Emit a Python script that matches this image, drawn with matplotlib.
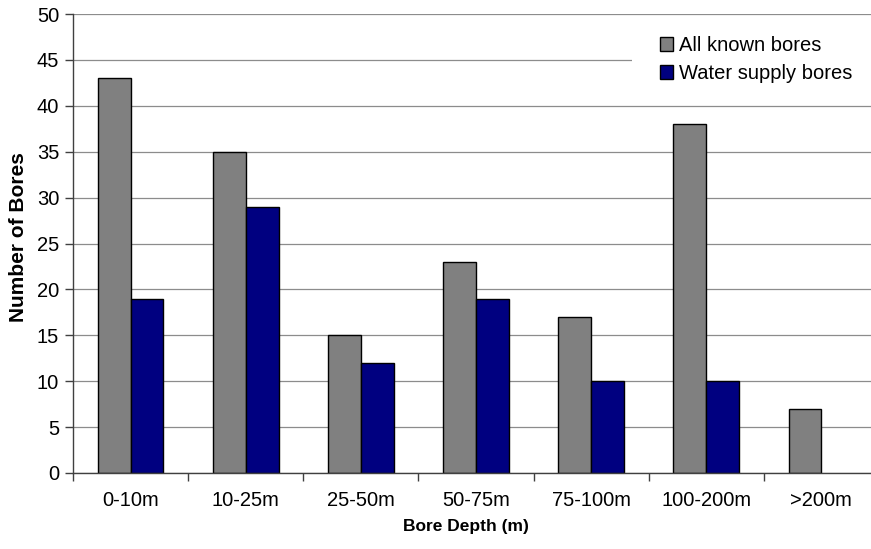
import matplotlib
matplotlib.use("Agg")
import matplotlib.pyplot as plt
from matplotlib.patches import Rectangle, Patch
import numpy as np

plt.rcParams['font.family'] = ['Liberation Sans', 'DejaVu Sans']

categories = ["0-10m", "10-25m", "25-50m", "50-75m", "75-100m", "100-200m", ">200m"]
all_known = [43, 35, 15, 23, 17, 38, 7]
water_supply = [19, 29, 12, 19, 10, 10, 0]
y_ticks = [0, 5, 10, 15, 20, 25, 30, 35, 40, 45, 50]

W, H = 871, 549
fig = plt.figure(figsize=(W / 100, H / 100), dpi=100)
ax = fig.add_axes([73 / W, 1 - 473 / H, (879 - 73) / W, (473 - 14) / H])

gray = "#808080"
navy = "#000080"
bw = 1 / 3.5
x = np.arange(len(categories)) + 0.5

ax.bar(x - bw / 2, all_known, width=bw, color=gray, edgecolor="black", linewidth=1.0, zorder=2)
ws_x = [xi + bw / 2 for xi, v in zip(x, water_supply) if v > 0]
ws_v = [v for v in water_supply if v > 0]
ax.bar(ws_x, ws_v, width=bw, color=navy, edgecolor="black", linewidth=1.0, zorder=2)

ax.set_xlim(0, len(categories))
ax.set_ylim(0, 50)
ax.set_yticks(y_ticks)
ax.set_xticks(x)
ax.set_xticklabels(categories)
ax.set_xticks(np.arange(len(categories) + 1), minor=True)
ax.tick_params(axis="x", which="major", length=0, pad=13, labelsize=14.5)
ax.tick_params(axis="x", which="minor", length=6, width=1.0, color="#404040", direction="out")
ax.tick_params(axis="y", length=6, width=1.0, color="#404040", direction="out", labelsize=14.5, pad=4)

ax.set_axisbelow(True)
ax.yaxis.grid(True, color="#8c8c8c", linewidth=0.9)
for s in ["top", "right"]:
    ax.spines[s].set_visible(False)
for s in ["left", "bottom"]:
    ax.spines[s].set_color("#404040")
    ax.spines[s].set_linewidth(1.0)

fig.text(466 / W, 1 - 526 / H, "Bore Depth (m)", fontsize=12.5, fontweight="bold",
         ha="center", va="center")
fig.text(18 / W, 1 - 237 / H, "Number of Bores", fontsize=15, fontweight="bold",
         ha="center", va="center", rotation=90)

# white legend area over the gridlines
fig.patches.append(Rectangle((632 / W, 1 - 97 / H), (W - 632) / W + 0.02, 72 / H,
                             transform=fig.transFigure, facecolor="white",
                             edgecolor="none", zorder=1))
handles = [Patch(facecolor=gray, edgecolor="black", linewidth=1.0),
           Patch(facecolor=navy, edgecolor="black", linewidth=1.0)]
fig.legend(handles, ["All known bores", "Water supply bores"], loc="upper left",
           bbox_to_anchor=(646 / W, 1 - 22 / H), bbox_transform=fig.transFigure,
           frameon=False, fontsize=14.5, handlelength=0.65, handleheight=0.65,
           handletextpad=0.3, labelspacing=0.45, borderpad=0.2)

fig.savefig("out.png", dpi=100)
